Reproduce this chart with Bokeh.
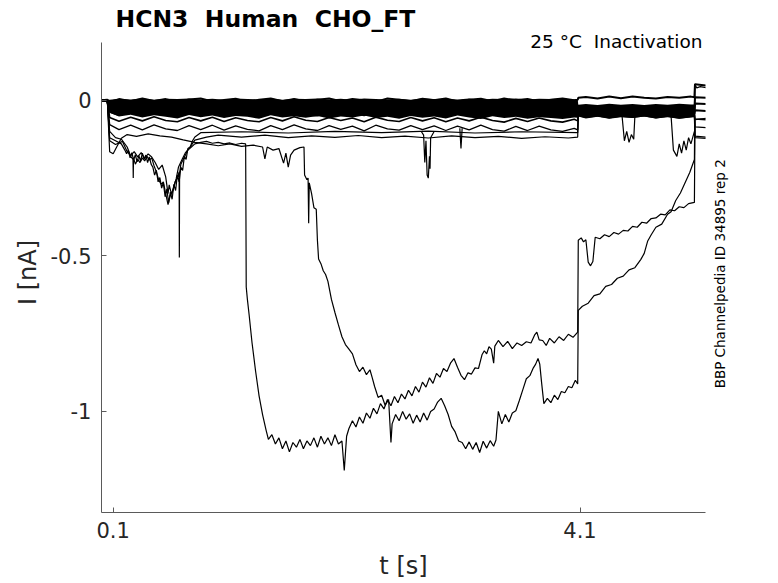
import math
from bokeh.plotting import figure
from bokeh.layouts import column, row
from bokeh.models import Range1d, FixedTicker, Label
from bokeh.embed import file_html
from bokeh.resources import INLINE

FONT = "DejaVu Sans"

# ---------------- data ----------------
X_TICKS = [0.1, 4.1]
X_TICK_TEXT = ["0.1", "4.1"]
Y_TICKS = [0, -0.5, -1]
Y_TICK_TEXT = ["0", "-0.5", "-1"]

T_BASE = [
    0.00, 0.05, 0.07, 0.15, 0.25, 0.35, 0.45, 0.55, 0.65, 0.75,
    0.85, 0.95, 1.05, 1.15, 1.25, 1.35, 1.45, 1.55, 1.65, 1.75,
    1.85, 1.95, 2.05, 2.15, 2.25, 2.35, 2.45, 2.55, 2.65, 2.75,
    2.85, 2.95, 3.05, 3.15, 3.25, 3.35, 3.45, 3.55, 3.65, 3.75,
    3.85, 3.95, 4.05, 4.08, 4.085, 4.15, 4.25, 4.35, 4.45, 4.55,
    4.65, 4.75, 4.85, 4.95, 5.05, 5.08, 5.085, 5.18,
]

# upper / lower edge of the dense bundle of near-zero sweeps
BAND_HI = [
    0.000, 0.003, 0.002, 0.005, 0.003, 0.006, 0.002, 0.005, 0.004, 0.006,
    0.003, 0.005, 0.002, 0.006, 0.004, 0.003, 0.006, 0.002, 0.005, 0.004,
    0.006, 0.003, 0.005, 0.002, 0.006, 0.004, 0.003, 0.005, 0.002, 0.006,
    0.004, 0.005, 0.003, 0.006, 0.002, 0.005, 0.004, 0.006, 0.003, 0.005,
    0.004, 0.006, 0.003, 0.004, -0.014, -0.012, -0.015, -0.011, -0.014, -0.012,
    -0.015, -0.012, -0.014, -0.011, -0.013, -0.013, -0.010, -0.010,
]
BAND_LO = [
    0.000, -0.003, -0.040, -0.052, -0.046, -0.055, -0.048, -0.053, -0.058, -0.047,
    -0.054, -0.049, -0.057, -0.050, -0.053, -0.059, -0.048, -0.055, -0.051, -0.056,
    -0.050, -0.058, -0.052, -0.055, -0.049, -0.057, -0.053, -0.059, -0.050, -0.056,
    -0.052, -0.058, -0.049, -0.055, -0.060, -0.051, -0.057, -0.053, -0.059, -0.054,
    -0.057, -0.060, -0.055, -0.056, -0.052, -0.058, -0.053, -0.059, -0.054, -0.057,
    -0.052, -0.058, -0.054, -0.059, -0.055, -0.054, -0.010, -0.010,
]

BASE_1 = [
    0.000, 0.002, -0.005, 0.004, -0.003, 0.006, -0.002, 0.004, -0.005, 0.003,
    0.006, -0.004, 0.001, 0.005, -0.006, 0.002, 0.006, -0.003, 0.004, -0.004,
    0.002, 0.006, -0.003, 0.004, 0.000, -0.005, 0.006, 0.002, -0.003, 0.005,
    0.000, 0.006, -0.004, 0.002, 0.005, -0.003, 0.006, 0.000, 0.004, -0.004,
    0.002, 0.006, 0.000, 0.002, 0.008, 0.011, 0.006, 0.012, 0.007, 0.012,
    0.008, 0.006, 0.011, 0.008, 0.012, 0.010, 0.052, 0.048,
]
BASE_2 = [
    0.000, -0.002, -0.008, -0.017, -0.009, -0.018, -0.008, -0.016, -0.019, -0.009,
    -0.017, -0.008, -0.016, -0.019, -0.009, -0.017, -0.010, -0.019, -0.008, -0.016,
    -0.018, -0.009, -0.017, -0.010, -0.019, -0.008, -0.016, -0.018, -0.009, -0.017,
    -0.010, -0.019, -0.009, -0.016, -0.018, -0.008, -0.017, -0.010, -0.018, -0.009,
    -0.016, -0.019, -0.010, -0.017, -0.025, -0.032, -0.026, -0.033, -0.027, -0.034,
    -0.026, -0.032, -0.027, -0.033, -0.028, -0.027, 0.010, 0.008,
]
BASE_3 = [
    0.000, -0.003, -0.022, -0.031, -0.023, -0.032, -0.021, -0.030, -0.033, -0.022,
    -0.031, -0.023, -0.032, -0.022, -0.030, -0.033, -0.023, -0.031, -0.021, -0.030,
    -0.033, -0.022, -0.031, -0.024, -0.032, -0.021, -0.030, -0.033, -0.023, -0.031,
    -0.022, -0.032, -0.024, -0.031, -0.021, -0.030, -0.033, -0.023, -0.031, -0.022,
    -0.030, -0.032, -0.023, -0.030, -0.035, -0.042, -0.036, -0.043, -0.037, -0.042,
    -0.035, -0.041, -0.036, -0.043, -0.037, -0.036, -0.010, -0.012,
]
BASE_4 = [
    0.000, -0.002, -0.037, -0.047, -0.038, -0.048, -0.036, -0.046, -0.049, -0.037,
    -0.047, -0.038, -0.048, -0.037, -0.046, -0.049, -0.038, -0.047, -0.036, -0.046,
    -0.049, -0.037, -0.047, -0.039, -0.048, -0.036, -0.046, -0.049, -0.038, -0.047,
    -0.037, -0.048, -0.039, -0.047, -0.036, -0.046, -0.049, -0.038, -0.047, -0.037,
    -0.046, -0.049, -0.039, -0.047, -0.043, -0.049, -0.042, -0.048, -0.043, -0.049,
    -0.042, -0.048, -0.043, -0.049, -0.044, -0.043, -0.032, -0.034,
]
BASE_5 = [
    0.000, -0.003, -0.055, -0.067, -0.054, -0.066, -0.053, -0.065, -0.069, -0.055,
    -0.066, -0.054, -0.068, -0.056, -0.065, -0.069, -0.055, -0.066, -0.053, -0.064,
    -0.068, -0.055, -0.065, -0.057, -0.069, -0.054, -0.064, -0.068, -0.055, -0.066,
    -0.056, -0.069, -0.057, -0.066, -0.054, -0.065, -0.070, -0.058, -0.068, -0.057,
    -0.066, -0.070, -0.061, -0.066, -0.045, -0.051, -0.046, -0.052, -0.047, -0.051,
    -0.046, -0.051, -0.047, -0.052, -0.048, -0.047, -0.060, -0.062,
]
BASE_6 = [
    0.000, -0.002, -0.078, -0.094, -0.080, -0.095, -0.079, -0.092, -0.097, -0.081,
    -0.094, -0.080, -0.096, -0.082, -0.093, -0.098, -0.081, -0.094, -0.079, -0.092,
    -0.097, -0.081, -0.093, -0.083, -0.098, -0.080, -0.092, -0.096, -0.081, -0.094,
    -0.082, -0.097, -0.083, -0.095, -0.080, -0.094, -0.099, -0.084, -0.097, -0.083,
    -0.095, -0.100, -0.090, -0.095, -0.049, -0.055, -0.050, -0.056, -0.051, -0.055,
    -0.050, -0.056, -0.051, -0.057, -0.052, -0.051, -0.120, -0.122,
]

# short excursions of the baseline sweeps (t [s], I [nA])
DIP_1 = [(2.74, -0.100), (2.76, -0.112), (2.77, -0.200), (2.78, -0.130), (2.79, -0.240),
         (2.80, -0.250), (2.81, -0.180), (2.815, -0.220), (2.82, -0.120), (2.85, -0.100)]
DIP_2 = [(3.07, -0.090), (3.08, -0.155), (3.09, -0.090)]
DIP_3 = [(4.46, -0.050), (4.48, -0.130), (4.50, -0.100), (4.52, -0.135), (4.54, -0.110),
         (4.56, -0.125), (4.57, -0.050)]
DIP_4 = [(4.88, -0.050), (4.90, -0.160), (4.93, -0.180), (4.95, -0.140), (4.97, -0.170),
         (4.99, -0.130), (5.01, -0.160), (5.03, -0.120), (5.05, -0.140), (5.08, -0.100)]

TRACE_F = [(0.00, 0.000), (0.05, -0.003), (0.07, -0.120), (0.12, -0.130), (0.17, -0.140),
           (0.20, -0.160), (0.215, -0.172), (0.23, -0.160), (0.245, -0.185), (0.26, -0.168),
           (0.275, -0.192), (0.29, -0.175), (0.305, -0.198), (0.32, -0.178), (0.335, -0.195),
           (0.35, -0.170), (0.365, -0.190), (0.38, -0.176), (0.395, -0.200), (0.41, -0.182),
           (0.425, -0.205), (0.44, -0.215), (0.455, -0.240), (0.47, -0.225), (0.485, -0.262),
           (0.50, -0.248), (0.515, -0.282), (0.53, -0.265), (0.545, -0.310), (0.56, -0.285),
           (0.575, -0.330), (0.59, -0.295), (0.605, -0.318), (0.62, -0.270), (0.635, -0.290),
           (0.65, -0.240), (0.665, -0.262), (0.68, -0.215), (0.695, -0.225), (0.71, -0.180),
           (0.725, -0.190), (0.74, -0.155), (0.76, -0.150), (0.78, -0.130), (0.80, -0.118),
           (0.85, -0.104), (1.20, -0.101), (1.60, -0.105), (2.00, -0.100), (2.40, -0.104),
           (2.80, -0.099), (3.20, -0.105), (3.60, -0.101), (4.08, -0.104), (4.085, -0.048),
           (4.40, -0.051), (4.70, -0.047), (5.08, -0.050), (5.085, -0.085), (5.18, -0.088)]

TRACE_E = [(0.00, 0.000), (0.05, -0.002), (0.07, -0.130), (0.12, -0.142), (0.18, -0.132),
           (0.22, -0.165), (0.25, -0.178), (0.28, -0.165), (0.31, -0.182), (0.34, -0.168),
           (0.37, -0.186), (0.40, -0.172), (0.43, -0.182), (0.46, -0.200), (0.49, -0.222),
           (0.52, -0.208), (0.55, -0.246), (0.57, -0.300), (0.58, -0.272), (0.60, -0.302),
           (0.62, -0.280), (0.64, -0.252), (0.66, -0.214), (0.69, -0.190), (0.72, -0.168),
           (0.76, -0.150), (0.80, -0.128), (0.90, -0.118), (1.00, -0.112), (1.20, -0.118),
           (1.40, -0.112), (1.60, -0.120), (1.80, -0.114), (2.00, -0.119), (2.20, -0.113),
           (2.40, -0.120), (2.60, -0.115), (2.80, -0.121), (3.00, -0.114), (3.20, -0.120),
           (3.40, -0.116), (3.60, -0.122), (3.80, -0.117), (4.00, -0.121), (4.08, -0.118),
           (4.085, -0.042), (4.30, -0.046), (4.60, -0.043), (4.90, -0.047), (5.08, -0.044),
           (5.085, -0.115), (5.18, -0.118)]

TRACE_A = [(0.00, 0.000), (0.05, -0.004), (0.07, -0.100), (0.12, -0.120), (0.17, -0.125),
           (0.22, -0.150), (0.25, -0.180), (0.27, -0.190), (0.272, -0.250), (0.274, -0.185),
           (0.29, -0.205), (0.31, -0.190), (0.33, -0.200), (0.35, -0.185), (0.37, -0.195),
           (0.39, -0.180), (0.41, -0.192), (0.43, -0.185), (0.45, -0.210), (0.47, -0.230),
           (0.49, -0.255), (0.51, -0.270), (0.53, -0.262), (0.55, -0.300), (0.57, -0.335),
           (0.59, -0.305), (0.61, -0.290), (0.63, -0.262), (0.65, -0.250), (0.665, -0.230),
           (0.667, -0.505), (0.669, -0.235), (0.68, -0.205), (0.70, -0.190), (0.72, -0.175),
           (0.74, -0.160), (0.77, -0.150), (0.80, -0.140), (0.85, -0.135), (0.90, -0.132),
           (0.95, -0.138), (1.00, -0.135), (1.05, -0.140), (1.10, -0.137), (1.15, -0.142),
           (1.20, -0.138), (1.235, -0.140), (1.24, -0.600), (1.25, -0.640), (1.265, -0.690),
           (1.29, -0.780), (1.32, -0.870), (1.35, -0.950), (1.38, -1.010), (1.41, -1.060),
           (1.43, -1.090), (1.46, -1.075), (1.49, -1.105), (1.52, -1.085), (1.55, -1.120),
           (1.58, -1.095), (1.61, -1.130), (1.64, -1.100), (1.67, -1.115), (1.70, -1.090),
           (1.73, -1.120), (1.76, -1.095), (1.79, -1.110), (1.82, -1.085), (1.85, -1.115),
           (1.88, -1.080), (1.91, -1.105), (1.94, -1.085), (1.97, -1.110), (2.00, -1.075),
           (2.03, -1.105), (2.06, -1.095), (2.08, -1.190), (2.10, -1.080), (2.12, -1.055),
           (2.15, -1.030), (2.18, -1.050), (2.21, -1.018), (2.24, -1.038), (2.27, -1.005),
           (2.30, -1.022), (2.33, -0.990), (2.36, -1.008), (2.39, -0.975), (2.42, -0.992),
           (2.45, -0.962), (2.48, -0.982), (2.51, -0.952), (2.54, -0.972), (2.57, -0.944),
           (2.60, -0.960), (2.63, -0.932), (2.66, -0.950), (2.69, -0.920), (2.72, -0.938),
           (2.75, -0.906), (2.78, -0.922), (2.81, -0.892), (2.84, -0.910), (2.87, -0.878),
           (2.90, -0.890), (2.93, -0.862), (2.96, -0.872), (2.99, -0.845), (3.02, -0.830),
           (3.05, -0.858), (3.08, -0.884), (3.11, -0.898), (3.14, -0.876), (3.17, -0.880),
           (3.20, -0.860), (3.23, -0.862), (3.26, -0.818), (3.28, -0.805), (3.30, -0.815),
           (3.32, -0.792), (3.34, -0.800), (3.36, -0.845), (3.37, -0.790), (3.40, -0.772),
           (3.44, -0.792), (3.48, -0.775), (3.52, -0.798), (3.56, -0.780), (3.60, -0.788),
           (3.64, -0.776), (3.68, -0.780), (3.71, -0.755), (3.73, -0.745), (3.75, -0.770),
           (3.78, -0.772), (3.81, -0.788), (3.84, -0.765), (3.88, -0.780), (3.92, -0.760),
           (3.96, -0.772), (4.00, -0.752), (4.04, -0.762), (4.08, -0.745), (4.085, -0.450),
           (4.11, -0.442), (4.13, -0.455), (4.15, -0.448), (4.17, -0.520), (4.19, -0.532),
           (4.21, -0.518), (4.23, -0.440), (4.27, -0.445), (4.31, -0.432), (4.35, -0.438),
           (4.39, -0.425), (4.43, -0.430), (4.47, -0.418), (4.51, -0.420), (4.55, -0.405),
           (4.59, -0.408), (4.63, -0.392), (4.67, -0.395), (4.71, -0.380), (4.75, -0.378),
           (4.79, -0.366), (4.83, -0.368), (4.87, -0.352), (4.91, -0.355), (4.95, -0.342),
           (4.99, -0.345), (5.03, -0.332), (5.08, -0.328), (5.085, -0.062), (5.18, -0.058)]

TRACE_B = [(0.00, 0.000), (0.05, -0.003), (0.07, -0.165), (0.10, -0.172), (0.13, -0.150),
           (0.17, -0.122), (0.22, -0.110), (0.30, -0.116), (0.40, -0.108), (0.50, -0.114),
           (0.60, -0.118), (0.70, -0.127), (0.80, -0.135), (0.90, -0.140), (1.00, -0.146),
           (1.10, -0.140), (1.20, -0.148), (1.30, -0.144), (1.38, -0.150), (1.40, -0.188),
           (1.42, -0.150), (1.47, -0.160), (1.52, -0.155), (1.56, -0.202), (1.58, -0.170),
           (1.60, -0.215), (1.62, -0.176), (1.65, -0.160), (1.70, -0.152), (1.735, -0.150),
           (1.74, -0.240), (1.76, -0.255), (1.77, -0.250), (1.775, -0.395), (1.78, -0.265),
           (1.80, -0.300), (1.82, -0.345), (1.84, -0.350), (1.85, -0.450), (1.86, -0.510),
           (1.88, -0.525), (1.90, -0.548), (1.92, -0.560), (1.94, -0.582), (1.97, -0.640),
           (2.00, -0.682), (2.03, -0.722), (2.06, -0.760), (2.09, -0.785), (2.12, -0.800),
           (2.15, -0.815), (2.18, -0.850), (2.21, -0.872), (2.24, -0.858), (2.27, -0.882),
           (2.30, -0.866), (2.32, -0.892), (2.34, -0.920), (2.37, -0.955), (2.40, -0.948),
           (2.43, -0.980), (2.46, -0.962), (2.48, -1.100), (2.49, -1.040), (2.52, -1.010),
           (2.55, -1.030), (2.58, -1.000), (2.61, -1.025), (2.64, -1.008), (2.67, -1.038),
           (2.70, -1.012), (2.73, -1.034), (2.76, -1.005), (2.79, -1.028), (2.82, -1.000),
           (2.85, -0.992), (2.88, -0.970), (2.91, -0.958), (2.94, -0.982), (2.97, -1.010),
           (3.00, -1.048), (3.03, -1.066), (3.06, -1.095), (3.09, -1.100), (3.12, -1.120),
           (3.15, -1.098), (3.18, -1.122), (3.21, -1.100), (3.24, -1.132), (3.27, -1.096),
           (3.30, -1.118), (3.33, -1.094), (3.36, -1.112), (3.38, -1.092), (3.40, -1.000),
           (3.43, -1.040), (3.46, -1.010), (3.49, -1.034), (3.52, -1.005), (3.55, -0.998),
           (3.58, -0.965), (3.61, -0.930), (3.64, -0.895), (3.67, -0.885), (3.70, -0.860),
           (3.72, -0.848), (3.74, -0.830), (3.755, -0.848), (3.77, -0.905), (3.79, -0.975),
           (3.82, -0.958), (3.85, -0.972), (3.88, -0.948), (3.91, -0.962), (3.94, -0.936),
           (3.97, -0.940), (4.00, -0.920), (4.03, -0.924), (4.06, -0.900), (4.08, -0.912),
           (4.085, -0.675), (4.12, -0.662), (4.17, -0.652), (4.22, -0.628), (4.27, -0.622),
           (4.32, -0.598), (4.37, -0.592), (4.42, -0.572), (4.47, -0.565), (4.52, -0.545),
           (4.57, -0.538), (4.62, -0.512), (4.65, -0.492), (4.68, -0.452), (4.71, -0.432),
           (4.75, -0.408), (4.80, -0.398), (4.85, -0.366), (4.88, -0.358), (4.92, -0.322),
           (4.96, -0.298), (5.00, -0.265), (5.04, -0.232), (5.08, -0.190), (5.085, 0.050),
           (5.10, 0.040), (5.13, 0.044), (5.18, 0.041)]

TITLE = "HCN3\u00a0 Human\u00a0 CHO_FT"
CONDITION = "25 °C\u00a0 Inactivation"
SIDE_NOTE = "BBP Channelpedia ID 34895 rep 2"

# ---------------- layout constants ----------------
TOP_H = 32            # strip holding the title
MAIN_W, MAIN_H = 710, 551
SIDE_W = 60

X0, X1 = 0.0, 5.175
Y0, Y1 = -1.325, 0.186
Y_VIEW_TOP = 0.2181   # a few px above the axes box, for the condition text

# ---------------- title strip ----------------
p_top = figure(width=MAIN_W + SIDE_W, height=TOP_H, output_backend="svg",
               toolbar_location=None, x_axis_type=None, y_axis_type=None,
               x_range=Range1d(0, MAIN_W + SIDE_W), y_range=Range1d(0, TOP_H),
               min_border=0)
p_top.outline_line_color = None
p_top.background_fill_color = "white"
p_top.border_fill_color = "white"
p_top.add_layout(Label(x=115, y=14, text=TITLE, text_font=FONT,
                       text_font_size="23.5px", text_font_style="bold",
                       text_baseline="alphabetic", text_color="black"))

# ---------------- main axes ----------------
p = figure(width=MAIN_W, height=MAIN_H, output_backend="svg", toolbar_location=None,
           x_range=Range1d(X0, X1), y_range=Range1d(Y0, Y_VIEW_TOP),
           min_border_left=101, min_border_right=MAIN_W - 705, min_border_top=0,
           min_border_bottom=71)
p.outline_line_color = None
p.grid.visible = False
p.background_fill_color = "white"
p.border_fill_color = "white"

AXIS_COL = "#5a5a5a"
TXT_COL = "#262626"
for ax in (p.xaxis[0], p.yaxis[0]):
    ax.axis_line_color = AXIS_COL
    ax.major_tick_line_color = AXIS_COL
    ax.minor_tick_line_color = None
    ax.major_tick_in = 5
    ax.major_tick_out = 0
    ax.major_label_text_font = FONT
    ax.major_label_text_font_size = "21px"
    ax.major_label_text_color = TXT_COL
    ax.axis_label_text_font = FONT
    ax.axis_label_text_font_size = "24px"
    ax.axis_label_text_font_style = "normal"
    ax.axis_label_text_color = TXT_COL

p.xaxis.ticker = FixedTicker(ticks=X_TICKS)
p.xaxis.major_label_overrides = dict(zip(X_TICKS, X_TICK_TEXT))
p.xaxis.major_label_standoff = 9
p.xaxis.axis_label = "t [s]"
p.xaxis.axis_label_standoff = 11

p.yaxis.bounds = (Y0, Y1)
p.yaxis.ticker = FixedTicker(ticks=Y_TICKS)
p.yaxis.major_label_overrides = dict(zip(Y_TICKS, Y_TICK_TEXT))
p.yaxis.major_label_standoff = 10
p.yaxis.axis_label = "I [nA]"
p.yaxis.axis_label_standoff = 6

# dense bundle of near-zero sweeps
p.varea(x=T_BASE, y1=BAND_LO, y2=BAND_HI, fill_color="black")

for vals, w in [(BASE_6, 1.3), (BASE_5, 1.6), (BASE_4, 2.0), (BASE_3, 2.0),
                (BASE_2, 2.0), (BASE_1, 2.0)]:
    p.line(T_BASE, vals, line_color="black", line_width=w)

for seg in (DIP_1, DIP_2, DIP_3, DIP_4, TRACE_F, TRACE_E, TRACE_A, TRACE_B):
    p.line([a for a, _ in seg], [b for _, b in seg], line_color="black", line_width=1.2)

p.add_layout(Label(x=X1, y=Y1, x_offset=-3, y_offset=1, text=CONDITION,
                   text_font=FONT, text_font_size="18.5px", text_align="right",
                   text_baseline="alphabetic", text_color="black"))

# ---------------- side strip ----------------
p_side = figure(width=SIDE_W, height=MAIN_H, output_backend="svg", toolbar_location=None,
                x_axis_type=None, y_axis_type=None,
                x_range=Range1d(0, SIDE_W), y_range=Range1d(0, MAIN_H), min_border=0)
p_side.outline_line_color = None
p_side.background_fill_color = "white"
p_side.border_fill_color = "white"
p_side.add_layout(Label(x=9, y=274, angle=math.pi / 2, text=SIDE_NOTE,
                        text_font=FONT, text_font_size="13.5px", text_align="center",
                        text_baseline="middle", text_color="black"))

layout = column(p_top, row(p, p_side))
open("out.html", "w").write(file_html(layout, INLINE))
